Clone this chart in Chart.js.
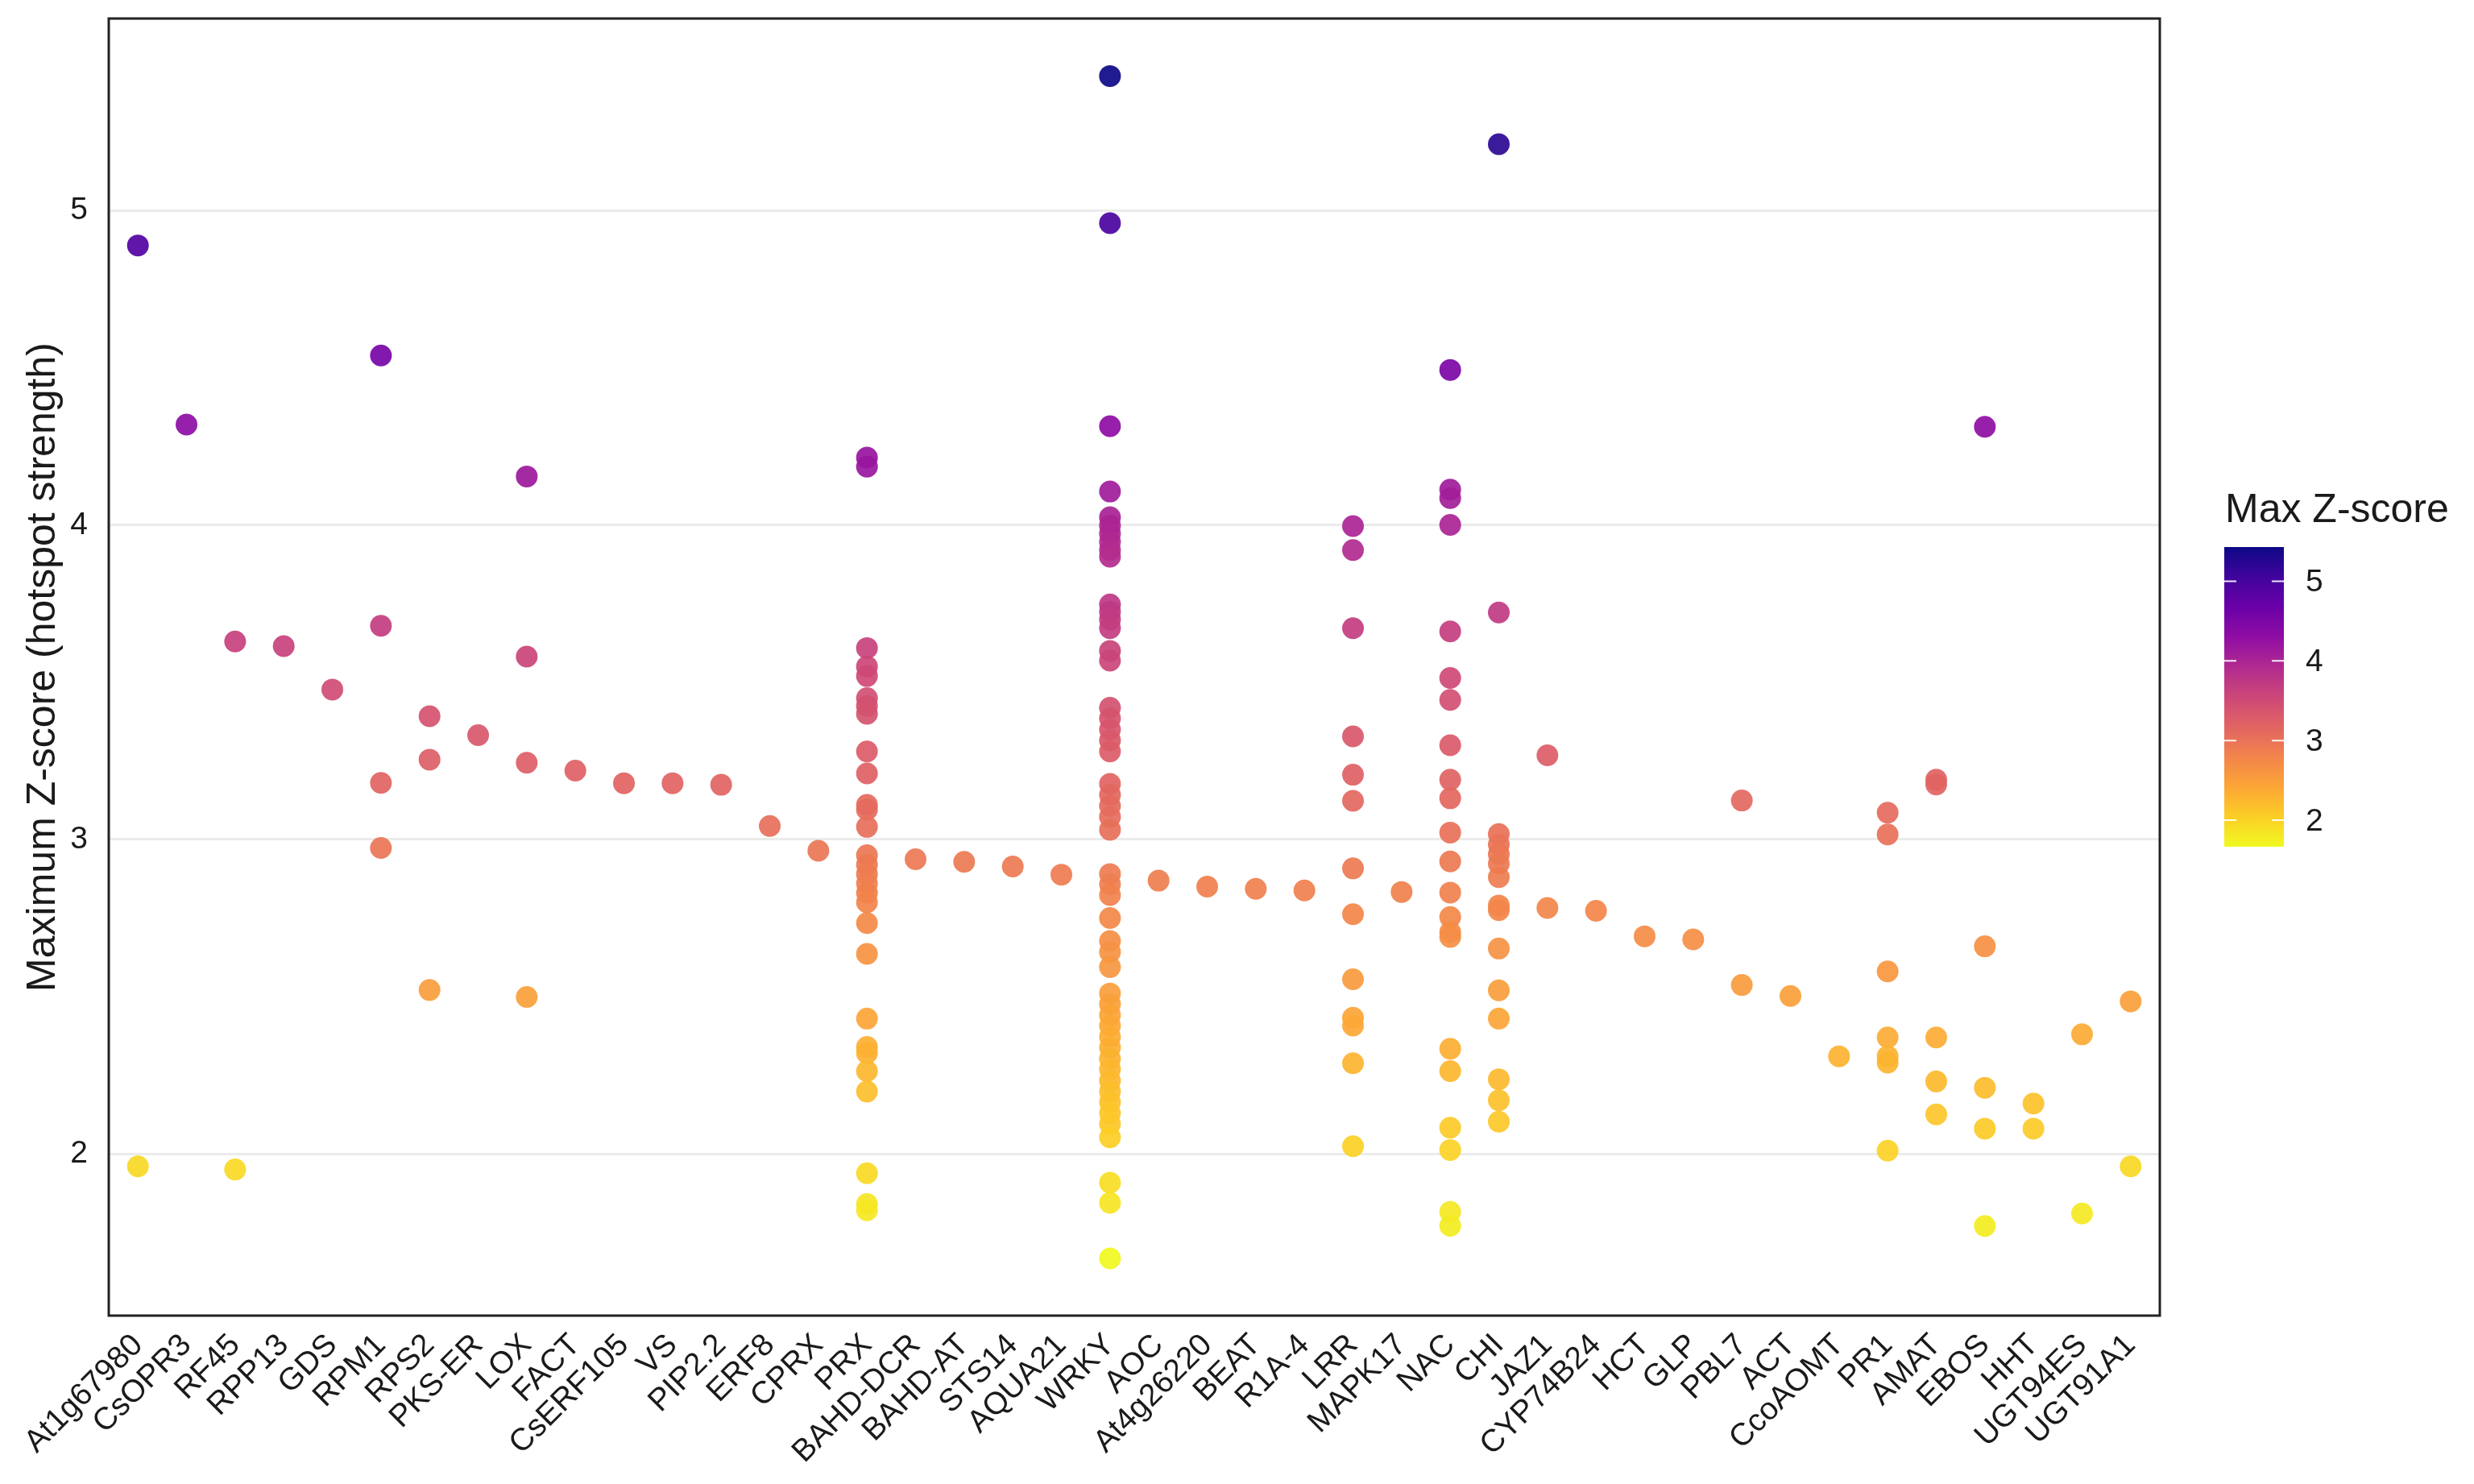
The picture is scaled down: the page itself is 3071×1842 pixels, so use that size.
<!DOCTYPE html>
<html>
<head>
<meta charset="utf-8">
<script src="https://cdn.jsdelivr.net/npm/chart.js@4"></script>
<style>
  html, body { margin: 0; padding: 0; background: #ffffff; }
  canvas { display: block; }
</style>
</head>
<body>
<canvas id="c" width="3071" height="1842" style="width:3071px;height:1842px"></canvas>
<script>
// ---------------- DATA ----------------
const categories = ["At1g67980","CsOPR3","RF45","RPP13","GDS","RPM1","RPS2","PKS-ER","LOX","FACT",
  "CsERF105","VS","PIP2.2","ERF8","CPRX","PRX","BAHD-DCR","BAHD-AT","STS14","AQUA21",
  "WRKY","AOC","At4g26220","BEAT","R1A-4","LRR","MAPK17","NAC","CHI","JAZ1",
  "CYP74B24","HCT","GLP","PBL7","ACT","CcoAOMT","PR1","AMAT","EBOS","HHT","UGT94ES","UGT91A1"];

// Max Z-score values of each hotspot, one list per gene family (same order as categories)
const zScores = [
  [4.89, 1.96],                                   // At1g67980
  [4.32],                                         // CsOPR3
  [3.63, 1.95],                                   // RF45
  [3.615],                                        // RPP13
  [3.477],                                        // GDS
  [4.54, 3.68, 3.18, 2.973],                      // RPM1
  [3.392, 3.254, 2.521],                          // RPS2
  [3.332],                                        // PKS-ER
  [4.155, 3.582, 3.244, 2.499],                   // LOX
  [3.219],                                        // FACT
  [3.179],                                        // CsERF105
  [3.179],                                        // VS
  [3.174],                                        // PIP2.2
  [3.043],                                        // ERF8
  [2.964],                                        // CPRX
  [4.215, 4.186, 3.609, 3.55, 3.52, 3.45, 3.425, 3.40, 3.28, 3.21, 3.11, 3.095, 3.04,
   2.95, 2.92, 2.89, 2.86, 2.83, 2.80, 2.734, 2.636, 2.43, 2.34, 2.32, 2.263, 2.198,
   1.938, 1.84, 1.82],                            // PRX
  [2.937],                                        // BAHD-DCR
  [2.929],                                        // BAHD-AT
  [2.914],                                        // STS14
  [2.888],                                        // AQUA21
  [5.429, 4.961, 4.315, 4.107, 4.025, 3.999, 3.973, 3.947, 3.921, 3.90, 3.748, 3.725,
   3.70, 3.672, 3.60, 3.569, 3.419, 3.385, 3.35, 3.315, 3.28, 3.177, 3.142, 3.107, 3.072,
   3.031, 2.89, 2.857, 2.823, 2.75, 2.677, 2.642, 2.594, 2.51, 2.476, 2.441, 2.407, 2.372,
   2.338, 2.302, 2.269, 2.233, 2.198, 2.164, 2.129, 2.095, 2.052, 1.908, 1.844, 1.667], // WRKY
  [2.869],                                        // AOC
  [2.85],                                         // At4g26220
  [2.843],                                        // BEAT
  [2.838],                                        // R1A-4
  [3.997, 3.921, 3.672, 3.328, 3.206, 3.123, 2.908, 2.762, 2.555, 2.433, 2.408, 2.288, 2.024], // LRR
  [2.833],                                        // MAPK17
  [4.494, 4.113, 4.086, 4.001, 3.662, 3.514, 3.444, 3.30, 3.19, 3.131, 3.022, 2.93, 2.831,
   2.753, 2.705, 2.69, 2.334, 2.263, 2.083, 2.012, 1.815, 1.771], // NAC
  [5.212, 3.722, 3.017, 2.984, 2.953, 2.923, 2.88, 2.79, 2.775, 2.653, 2.52, 2.43, 2.237,
   2.17, 2.102],                                  // CHI
  [3.268, 2.782],                                 // JAZ1
  [2.773],                                        // CYP74B24
  [2.692],                                        // HCT
  [2.682],                                        // GLP
  [3.124, 2.537],                                 // PBL7
  [2.502],                                        // ACT
  [2.31],                                         // CcoAOMT
  [3.085, 3.016, 2.58, 2.37, 2.31, 2.29, 2.01],   // PR1
  [3.19, 3.175, 2.37, 2.23, 2.125],               // AMAT
  [4.313, 2.66, 2.21, 2.08, 1.77],                // EBOS
  [2.16, 2.08],                                   // HHT
  [2.38, 1.81],                                   // UGT94ES
  [2.485, 1.96]                                   // UGT91A1
];

const yTicks = [2, 3, 4, 5];
const legendTicks = [2, 3, 4, 5];
const yAxisTitle = "Maximum Z-score (hotspot strength)";
const legendTitle = "Max Z-score";

// ---------------- COLOUR SCALE (plasma, reversed: high = dark) ----------------
const plasmaStops = ["#0d0887","#41049d","#6a00a8","#8f0da4","#b12a90","#cc4778",
                     "#e16462","#f2844b","#fca636","#fcce25","#f0f921"];
function hexToRgb(h) { return [parseInt(h.substr(1,2),16), parseInt(h.substr(3,2),16), parseInt(h.substr(5,2),16)]; }
const plasmaRgb = plasmaStops.map(hexToRgb);
function plasma(t) {
  t = Math.max(0, Math.min(1, t));
  const p = t * (plasmaRgb.length - 1);
  const i = Math.min(Math.floor(p), plasmaRgb.length - 2);
  const f = p - i;
  const a = plasmaRgb[i], b = plasmaRgb[i + 1];
  return [0,1,2].map(k => Math.round(a[k] + (b[k] - a[k]) * f));
}
const allVals = zScores.flat();
const zMin = Math.min(...allVals), zMax = Math.max(...allVals);
function colorFor(v, alpha) {
  const c = plasma((zMax - v) / (zMax - zMin));
  return `rgba(${c[0]},${c[1]},${c[2]},${alpha})`;
}

// ---------------- BUILD POINTS ----------------
const points = [];
const pointColors = [];
zScores.forEach((vals, i) => {
  vals.forEach(v => {
    points.push({ x: i + 1, y: v });
    pointColors.push(colorFor(v, 0.92));
  });
});

const FONT = "'Liberation Sans', Arial, Helvetica, sans-serif";
const TEXT = "#1a1a1a";

// ---------------- PLUGIN: panel border + colourbar legend ----------------
const decorPlugin = {
  id: 'decor',
  afterDatasetsDraw(chart) {
    const { ctx, chartArea: a } = chart;
    ctx.save();
    ctx.strokeStyle = '#222222';
    ctx.lineWidth = 3;
    ctx.strokeRect(a.left, a.top, a.right - a.left, a.bottom - a.top);
    ctx.restore();
  },
  afterDraw(chart) {
    const { ctx } = chart;
    const bx = 2761, bw = 74, by = 679, bh = 372;
    ctx.save();
    ctx.fillStyle = TEXT;
    ctx.font = `50px ${FONT}`;
    ctx.textAlign = 'left';
    ctx.textBaseline = 'alphabetic';
    ctx.fillText(legendTitle, 2762, 648);
    const g = ctx.createLinearGradient(0, by, 0, by + bh);
    for (let i = 0; i <= 20; i++) {
      const t = i / 20;
      const c = plasma(t);
      g.addColorStop(t, `rgb(${c[0]},${c[1]},${c[2]})`);
    }
    ctx.fillStyle = g;
    ctx.fillRect(bx, by, bw, bh);
    ctx.font = `39px ${FONT}`;
    ctx.textBaseline = 'middle';
    legendTicks.forEach(v => {
      const y = by + bh - (v - zMin) / (zMax - zMin) * bh;
      ctx.strokeStyle = 'rgba(255,255,255,0.9)';
      ctx.lineWidth = 2;
      ctx.beginPath();
      ctx.moveTo(bx, y); ctx.lineTo(bx + 15, y);
      ctx.moveTo(bx + bw - 15, y); ctx.lineTo(bx + bw, y);
      ctx.stroke();
      ctx.fillStyle = TEXT;
      ctx.fillText(String(v), 2862, y + 2);
    });
    ctx.restore();
  }
};

// ---------------- CHART ----------------
new Chart(document.getElementById('c').getContext('2d'), {
  type: 'scatter',
  data: {
    datasets: [{
      data: points,
      pointRadius: 13.5,
      pointHoverRadius: 13.5,
      pointBackgroundColor: pointColors,
      pointBorderWidth: 0,
      pointBorderColor: 'rgba(0,0,0,0)'
    }]
  },
  options: {
    responsive: false,
    animation: false,
    devicePixelRatio: 1,
    layout: { padding: { top: 23, right: 390, bottom: 0, left: 0 } },
    plugins: { legend: { display: false }, tooltip: { enabled: false } },
    scales: {
      x: {
        type: 'linear',
        min: 0.4,
        max: 42.6,
        grid: { display: false, drawTicks: false },
        border: { display: false },
        afterBuildTicks: s => { s.ticks = categories.map((c, i) => ({ value: i + 1 })); },
        ticks: {
          autoSkip: false,
          minRotation: 45,
          maxRotation: 45,
          padding: 14,
          color: TEXT,
          font: { family: FONT, size: 39 },
          callback: v => categories[Math.round(v) - 1]
        },
        afterFit: s => { s.height = 209; s.paddingRight = 0; }
      },
      y: {
        type: 'linear',
        min: 1.485,
        max: 5.612,
        afterBuildTicks: s => { s.ticks = yTicks.map(v => ({ value: v })); },
        grid: { color: '#ebebeb', lineWidth: 3, drawTicks: false },
        border: { display: false },
        ticks: {
          padding: 26,
          color: TEXT,
          font: { family: FONT, size: 39 },
          callback: v => String(v)
        },
        title: {
          display: true,
          text: yAxisTitle,
          color: TEXT,
          font: { family: FONT, size: 50 },
          padding: { top: 24, bottom: 0 }
        },
        afterFit: s => { s.width = 135; s.paddingTop = 0; s.paddingBottom = 0; }
      }
    }
  },
  plugins: [decorPlugin]
});
</script>
</body>
</html>
